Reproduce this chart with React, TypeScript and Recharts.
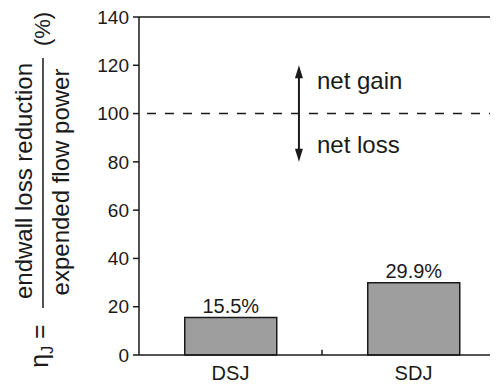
import React from 'react';
import { BarChart, Bar, XAxis, YAxis, ReferenceLine, ReferenceArea, LabelList } from 'recharts';

const categories = ['DSJ', 'SDJ'];
const efficiency = [15.5, 29.9];
const yTicks = [0, 20, 40, 60, 80, 100, 120, 140];
const breakEven = 100;
const arrowRange = [80, 120];

const data = categories.map((name, i) => ({ name, eta: efficiency[i] }));

const FONT = '"Liberation Sans", Arial, Helvetica, sans-serif';
const INK = '#1a1a1a';

// fraction-style y label, drawn rotated on the left of the axis
const YLabel = () => (
  <g fill={INK} style={{ fontFamily: FONT }}>
    <text x={32} y={181} fontSize={24} textAnchor="middle" transform="rotate(-90 32 181)">
      endwall loss reduction
    </text>
    <line x1={43} y1={58} x2={43} y2={308} stroke={INK} strokeWidth={1.5} />
    <text x={69} y={182} fontSize={24} textAnchor="middle" transform="rotate(-90 69 182)">
      expended flow power
    </text>
    <text x={50} y={29} fontSize={22} textAnchor="middle" transform="rotate(-90 50 29)">
      (%)
    </text>
    <text x={48} y={346} fontSize={25} textAnchor="middle" transform="rotate(-90 48 346)">
      η<tspan fontSize={16} dy={5}>J</tspan>
      <tspan dy={-5}> =</tspan>
    </text>
  </g>
);

// double headed arrow with the gain / loss notes, placed a bit left of the plot middle
const GainArrow = (props: any) => {
  const { x, y, width, height } = props;
  const ax = x + width * 0.437;
  const top = y;
  const bot = y + height;
  return (
    <g>
      <line x1={ax} y1={top + 10} x2={ax} y2={bot - 10} stroke={INK} strokeWidth={2} />
      <polygon points={`${ax},${top} ${ax - 4},${top + 13} ${ax + 4},${top + 13}`} fill={INK} />
      <polygon points={`${ax},${bot} ${ax - 4},${bot - 13} ${ax + 4},${bot - 13}`} fill={INK} />
      <text x={ax + 18} y={top + 24} fontSize={24} fill={INK} style={{ fontFamily: FONT }}>net gain</text>
      <text x={ax + 18} y={bot - 9} fontSize={24} fill={INK} style={{ fontFamily: FONT }}>net loss</text>
    </g>
  );
};

// small inward tick between the two categories
const MidTick = (props: any) => {
  const { x, y, width, height } = props;
  const mx = x + width / 2;
  return <line x1={mx} y1={y} x2={mx} y2={y + height} stroke={INK} strokeWidth={1.5} />;
};

export default function App() {
  return (
    <div style={{ margin: -8, width: 498, height: 389, overflow: 'hidden', background: '#fff', fontFamily: FONT }}>
      <BarChart
        width={498}
        height={389}
        data={data}
        margin={{ top: 17, right: -7, bottom: 4, left: 0 }}
        barCategoryGap="25%"
      >
        <XAxis
          dataKey="name"
          tickLine={false}
          tickSize={6}
          tickMargin={5}
          height={30}
          axisLine={{ stroke: INK, strokeWidth: 1.5 }}
          tick={{ fontSize: 20, fill: INK }}
        />
        <YAxis
          width={139}
          domain={[0, 140]}
          ticks={yTicks}
          interval={0}
          tickSize={6}
          tickMargin={4}
          axisLine={{ stroke: INK, strokeWidth: 1.5 }}
          tickLine={{ stroke: INK, strokeWidth: 1.5 }}
          tick={{ fontSize: 19, fill: INK }}
          label={{ content: () => <YLabel /> }}
        />
        <ReferenceLine y={140} stroke={INK} strokeWidth={1.5} />
        <ReferenceLine y={breakEven} stroke={INK} strokeWidth={1.5} strokeDasharray="9 9" strokeDashoffset={10} />
        <ReferenceArea y1={0} y2={2.2} shape={MidTick} />
        <ReferenceArea y1={arrowRange[0]} y2={arrowRange[1]} shape={GainArrow} />
        <Bar dataKey="eta" fill="#9e9e9e" stroke={INK} strokeWidth={1.5} isAnimationActive={false}>
          <LabelList
            dataKey="eta"
            position="top"
            offset={5}
            formatter={(v: any) => `${v}%`}
            style={{ fontSize: 20, fill: INK, fontFamily: FONT }}
          />
        </Bar>
      </BarChart>
    </div>
  );
}
